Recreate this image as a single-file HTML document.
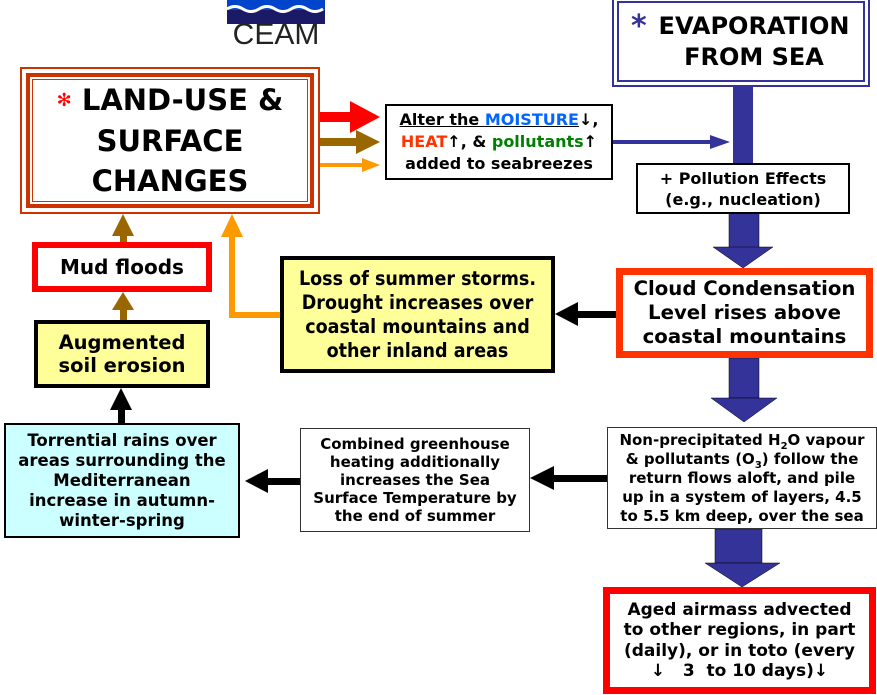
<!DOCTYPE html>
<html><head><meta charset="utf-8"><style>
body{margin:0;width:877px;height:695px;background:#fff;position:relative;overflow:hidden;font-family:"DejaVu Sans","Liberation Sans",sans-serif;font-weight:bold;color:#000}
.b{position:absolute;box-sizing:border-box;display:flex;flex-direction:column;justify-content:center;align-items:center;text-align:center;white-space:nowrap}
.c{font-family:"DejaVu Sans Condensed","DejaVu Sans",sans-serif}
sub{font-size:10px;line-height:0}
svg{position:absolute;left:0;top:0}
</style></head><body>
<svg width="877" height="695">
<rect x="227" y="0" width="98" height="16" fill="#0044cc"/>
<rect x="227" y="10" width="98" height="14" fill="#1a1a66"/>
<path d="M227 9 q8 -5 16 0 t16 0 t16 0 t16 0 t16 0 t16 0" stroke="#fff" stroke-width="3" fill="none"/>
<rect x="318" y="112" width="36" height="10" fill="#ff0000"/><polygon points="350,101 380,117 350,133" fill="#ff0000"/>
<rect x="318" y="138" width="40" height="8" fill="#996600"/><polygon points="356,130 380,142 356,154" fill="#996600"/>
<rect x="318" y="163" width="46" height="4" fill="#ff9900"/><polygon points="362,158 380,165 362,172" fill="#ff9900"/>
<rect x="613" y="140" width="100" height="4" fill="#333399"/><polygon points="710,135 730,142 710,149" fill="#333399"/>
<rect x="733" y="86" width="20" height="80" fill="#333399"/>
<rect x="729" y="213" width="30" height="35" fill="#333399" stroke="#000" stroke-width="0.5"/>
<polygon points="713,247 773,247 743,268" fill="#333399" stroke="#000" stroke-width="0.5"/>
<rect x="729" y="358" width="30" height="40" fill="#333399" stroke="#000" stroke-width="0.5"/>
<polygon points="711,398 777,398 744,422" fill="#333399" stroke="#000" stroke-width="0.5"/>
<rect x="715" y="529" width="47" height="34" fill="#333399" stroke="#000" stroke-width="0.5"/>
<polygon points="705,563 780,563 742,587" fill="#333399" stroke="#000" stroke-width="0.5"/>
<rect x="575" y="311" width="42" height="7" fill="#000"/><polygon points="555,314 578,302 578,326" fill="#000"/>
<rect x="550" y="475" width="58" height="7" fill="#000"/><polygon points="530,478 554,466 554,490" fill="#000"/>
<rect x="265" y="478" width="36" height="7" fill="#000"/><polygon points="245,481 268,469 268,493" fill="#000"/>
<rect x="118" y="405" width="7" height="18" fill="#000"/><polygon points="121,388 110,410 132,410" fill="#000"/>
<rect x="120" y="305" width="7" height="16" fill="#996600"/><polygon points="123,292 112,310 134,310" fill="#996600"/>
<rect x="120" y="230" width="7" height="13" fill="#996600"/><polygon points="123,214 112,236 134,236" fill="#996600"/>
<polyline points="281,315 232,315 232,232" stroke="#ff9900" stroke-width="6" fill="none"/>
<polygon points="232,214 221,237 243,237" fill="#ff9900"/>
</svg>
<div class="b" style="left:222px;top:20px;width:108px;height:30px;font-family:'Liberation Sans',sans-serif;font-weight:normal;font-size:30px;color:#222">CEAM</div>

<div class="b" style="left:20px;top:67px;width:300px;height:147px;border:2px solid #cc3300;padding:4px;align-items:stretch">
 <div class="b" style="position:relative;flex:1;border:4px solid #cc3300;outline:1px solid #cc3300;outline-offset:-7px;font-size:29px;line-height:40px">
  <div><span style="color:#ff0000;font-size:18px;vertical-align:4px">✻</span> LAND-USE &amp;</div><div>SURFACE</div><div>CHANGES</div>
 </div></div>

<div class="b" style="left:385px;top:104px;width:228px;height:76px;border:2px solid #000;font-size:16px;line-height:22px">
 <div><span style="text-decoration:underline">Alter the <span style="color:#0066ff">MOISTURE</span></span>↓,</div>
 <div><span style="color:#ff3300">HEAT</span>↑, &amp; <span style="color:#008000">pollutants</span>↑</div>
 <div>added to seabreezes</div></div>

<div class="b" style="left:612px;top:-4px;width:258px;height:91px;border:2px solid #333399;padding:3px;align-items:stretch">
 <div class="b" style="position:relative;flex:1;border:2px solid #333399;font-size:24px;line-height:31px;padding-left:26px">
  <span style="position:absolute;left:12px;top:8px;color:#333399;font-size:30px">*</span>
  <div>EVAPORATION</div><div>FROM SEA</div></div></div>

<div class="b" style="left:636px;top:163px;width:214px;height:51px;border:2px solid #000;background:#fff;font-size:16px;line-height:21px"><div>+ Pollution Effects</div><div>(e.g., nucleation)</div></div>

<div class="b" style="left:616px;top:268px;width:257px;height:90px;border:7px solid #ff3300;font-size:19.7px;line-height:24px"><div>Cloud Condensation</div><div>Level rises above</div><div>coastal mountains</div></div>

<div class="b c" style="left:280px;top:256px;width:275px;height:117px;border:4px solid #000;background:#ffff99;font-size:19.5px;line-height:24px"><div>Loss of summer storms.</div><div>Drought increases over</div><div>coastal mountains and</div><div>other inland areas</div></div>

<div class="b" style="left:32px;top:242px;width:180px;height:50px;border:6px solid #ff0000;font-size:20px">Mud floods</div>

<div class="b" style="left:34px;top:320px;width:176px;height:68px;border:4px solid #000;background:#ffff99;font-size:19.5px;line-height:23px"><div>Augmented</div><div>soil erosion</div></div>

<div class="b" style="left:4px;top:423px;width:236px;height:115px;border:2px solid #000;background:#ccffff;font-size:16.5px;line-height:20px"><div>Torrential rains over</div><div>areas surrounding the</div><div>Mediterranean</div><div>increase in autumn-</div><div>winter-spring</div></div>

<div class="b" style="left:300px;top:428px;width:230px;height:104px;border:1.5px solid #333;font-size:15px;line-height:18px"><div>Combined greenhouse</div><div>heating additionally</div><div>increases the Sea</div><div>Surface Temperature by</div><div>the end of summer</div></div>

<div class="b" style="left:607px;top:427px;width:270px;height:102px;border:1.5px solid #333;font-size:15px;line-height:19px"><div>Non-precipitated H<sub>2</sub>O vapour</div><div>&amp; pollutants (O<sub>3</sub>) follow the</div><div>return flows aloft, and pile</div><div>up in a system of layers, 4.5</div><div>to 5.5 km deep, over the sea</div></div>

<div class="b" style="left:603px;top:587px;width:273px;height:107px;border:7px solid #ff0000;font-size:17px;line-height:20.5px"><div>Aged airmass advected</div><div>to other regions, in part</div><div>(daily), or in toto (every</div><div>↓&nbsp;&nbsp; 3&nbsp; to 10 days)↓</div></div>
</body></html>
